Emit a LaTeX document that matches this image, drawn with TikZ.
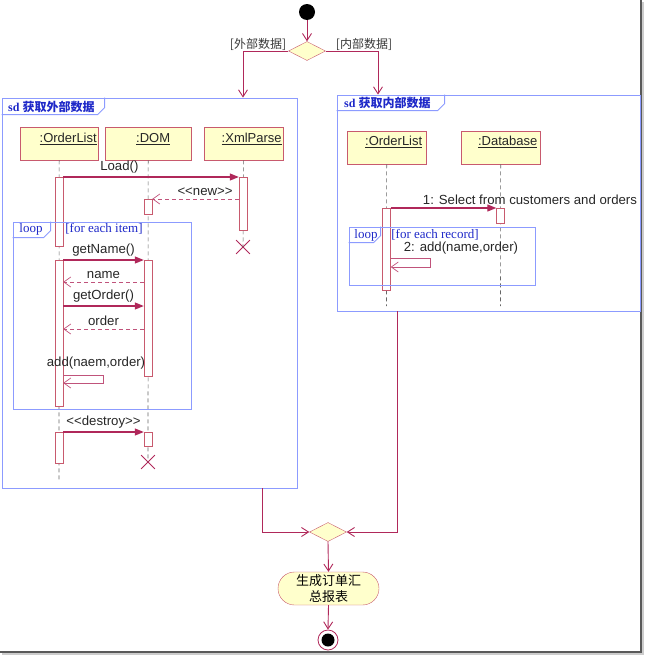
\documentclass[tikz,border=0pt]{standalone}
\usepackage{fontspec}
\setmainfont{Liberation Sans}
\newfontfamily\cjk{Noto Sans CJK SC}
\newfontfamily\serifx{Liberation Serif}
\usetikzlibrary{arrows.meta,shapes.geometric,shapes.misc,calc}
\definecolor{crim}{RGB}{176,40,90}
\definecolor{boxb}{RGB}{200,90,110}
\definecolor{yfill}{RGB}{255,255,204}
\definecolor{frm}{RGB}{140,155,255}
\definecolor{tagc}{RGB}{30,40,200}
\tikzset{
  flow/.style={draw=crim, line width=0.9pt, -{Straight Barb[length=7pt,width=9pt]}},
  msg/.style={draw=crim, line width=1.2pt, -{Triangle[length=9pt,width=7pt]}},
  ret/.style={draw=crim!80, dash pattern=on 4pt off 3pt, line width=0.7pt, -{Straight Barb[length=7pt,width=10pt]}},
  selfmsg/.style={draw=crim!80, line width=0.7pt, -{Straight Barb[length=7pt,width=10pt]}},
  lifebox/.style={draw=boxb, fill=yfill, minimum height=33pt, anchor=north west, inner sep=0pt},
  lifetxt/.style={font=\fontsize{13}{15}\selectfont, text=black!85, inner sep=0pt},
  actbar/.style={draw=boxb, fill=white, minimum width=8pt, inner sep=0pt, anchor=north},
  lline/.style={draw=black!60, dash pattern=on 4pt off 3pt, line width=0.6pt},
  frame/.style={draw=frm, line width=0.8pt},
  framebox/.style={draw=frm, line width=0.8pt, inner sep=0pt},
  tagtxt/.style={font=\fontsize{12}{14}\selectfont\bfseries, text=tagc, inner sep=0pt},
  looptxt/.style={font=\serifx\fontsize{13}{15}\selectfont, text=tagc, inner sep=0pt},
  msgtxt/.style={font=\fontsize{13.2}{15}\selectfont, text=black!85, inner sep=0pt},
  guardtxt/.style={font=\cjk\fontsize{12}{14}\selectfont, text=black!78, inner sep=0pt},
  decision/.style={diamond, draw=boxb, fill=yfill, inner sep=0pt, minimum width=37pt, minimum height=19pt},
  killx/.style={cross out, draw=crim, line width=0.8pt, minimum size=13pt, inner sep=0pt},
}
\begin{document}
\begin{tikzpicture}[x=1pt,y=-1pt]
\useasboundingbox (0,0) rectangle (645,656);
% screenshot frame
\draw[black!65, line width=1.6pt] (641,0) -- (641,652) -- (0,652);
\draw[black!20, line width=1.2pt] (643,2) -- (643,654) -- (2,654);

% start, decision
\node[circle, fill=black, minimum size=16pt, inner sep=0pt] (st) at (307,12) {};
\node[decision] (d1) at (307,51) {};
\draw[flow] (st) -- (d1.north);
\node[guardtxt] (g1) at (258,44) {[外部数据]};
\node[guardtxt] (g2) at (364,44) {[内部数据]};

% frames
\node[framebox, minimum width=295pt, minimum height=390pt] (lf) at (149.5,293) {};
\node[framebox, minimum width=303pt, minimum height=216pt] (rf) at (488.5,203) {};
\draw[flow] (d1.west) -| ([xshift=93.5pt]lf.north);
\draw[flow] (d1.east) -| ([xshift=-110.5pt]rf.north);
\draw[frame] ([yshift=-17pt]lf.north west) -- ++(96,0) -- ++(7,-7) -- ++(0,-10);
\node[tagtxt, anchor=west] (lt) at (8,107) {\serifx sd \cjk 获取外部数据};
\draw[frame] ([yshift=-16pt]rf.north west) -- ++(101,0) -- ++(7,-7) -- ++(0,-9);
\node[tagtxt, anchor=west] (rt) at (344,103) {\serifx sd \cjk 获取内部数据};

% ---------- left sequence ----------
\node[lifebox, minimum width=78pt] (ob) at (20,127) {};
\node[lifebox, minimum width=86pt] (db) at (105,127) {};
\node[lifebox, minimum width=79pt] (xb) at (204,127) {};
\node[lifetxt] (obt) at ([xshift=9pt,yshift=-12pt]ob.north) {\underline{:OrderList}};
\node[lifetxt] (dbt) at ([xshift=5pt,yshift=-12pt]db.north) {\underline{:DOM}};
\node[lifetxt] (xbt) at ([xshift=8pt,yshift=-12pt]xb.north) {\underline{:XmlParse}};

\node[killx] (xx) at (243,247) {};
\node[killx] (dx) at (148,462) {};
\coordinate (oend) at (59,481);
\draw[lline] (ob.south) -- (oend);
\draw[lline] (db.south) -- (dx.center);
\draw[lline] (xb.south) -- (xx.center);

\node[actbar, minimum height=69pt] (oa1) at (59,177) {};
\node[actbar, minimum height=146pt] (oa2) at (59,260) {};
\node[actbar, minimum height=31pt] (oa3) at (59,432) {};
\node[actbar, minimum height=53pt] (xa1) at (243,177) {};
\node[actbar, minimum height=15pt] (da1) at (148,199) {};
\node[actbar, minimum height=116pt] (da2) at (148,260) {};
\node[actbar, minimum height=14pt] (da3) at (148,432) {};

\draw[msg] (oa1.north east) -- (xa1.north west) node[msgtxt, pos=0.32, above=3pt] (m1) {Load()};
\draw[ret] (xa1.west |- da1.north) -- (da1.north east) node[msgtxt, pos=0.39, above=3pt] (m2) {<{}<new>{}>};

% loop 1
\node[framebox, minimum width=178pt, minimum height=187pt] (lp1) at (102,315.5) {};
\draw[frame] ([yshift=-16pt]lp1.north west) -- ++(31,0) -- ++(7,-7) -- ++(0,-9);
\node[looptxt] (lp1t) at (31,229) {loop};
\node[looptxt] (lp1g) at (104,229) {[for each item]};

\draw[msg] (oa2.north east) -- (da2.north west) node[msgtxt, midway, above=3pt] (m3) {getName()};
\draw[ret] ([yshift=-22pt]da2.north west) -- ([yshift=-22pt]oa2.north east) node[msgtxt, midway, above=3pt] (m4) {name};
\draw[msg] ([yshift=-46pt]oa2.north east) -- ([yshift=-46pt]da2.north west) node[msgtxt, midway, above=3pt] (m5) {getOrder()};
\draw[ret] ([yshift=-69pt]da2.north west) -- ([yshift=-69pt]oa2.north east) node[msgtxt, midway, above=3pt] (m6) {order};
\node[msgtxt] (m7) at (96,363) {add(naem,order)};
\draw[selfmsg] ([yshift=-115pt]oa2.north east) -- ++(40,0) -- ++(0,8) -- ++(-40,0);
\draw[msg] (oa3.north east) -- (da3.north west) node[msgtxt, midway, above=3pt] (m8) {<{}<destroy>{}>};

% ---------- right sequence ----------
\node[lifebox, minimum width=79pt] (rob) at (347,131) {};
\node[lifebox, minimum width=79pt] (rdb) at (461,131) {};
\node[lifetxt] (robt) at ([xshift=7pt,yshift=-11pt]rob.north) {\underline{:OrderList}};
\node[lifetxt] (rdbt) at ([xshift=7pt,yshift=-11pt]rdb.north) {\underline{:Database}};
\coordinate (roend) at (386.5,306);
\coordinate (rdend) at (500.5,306);
\draw[lline] (rob.south) -- (roend);
\draw[lline] (rdb.south) -- (rdend);
\node[actbar, minimum height=82pt] (roa) at (386.5,208) {};
\node[actbar, minimum height=15pt] (rda) at (500.5,208) {};
\draw[msg] (roa.north east) -- (rda.north west) node[msgtxt, pos=0.3, anchor=south west, yshift=3pt] (r1) {1: Select from customers and orders};

\node[framebox, minimum width=186pt, minimum height=58pt] (lp2) at (442,256) {};
\draw[frame] ([yshift=-16pt]lp2.north west) -- ++(25,0) -- ++(7,-7) -- ++(0,-9);
\node[looptxt] (lp2t) at (366,235) {loop};
\node[looptxt] (lp2g) at (435,235) {[for each record]};
\node[msgtxt] (r2) at (461,248) {2: add(name,order)};
\draw[selfmsg] ([yshift=-50pt]roa.north east) -- ++(40,0) -- ++(0,9) -- ++(-40,0);

% ---------- merge and end ----------
\node[decision] (d2) at (328,532) {};
\draw[flow] ([xshift=112.5pt]lf.south) |- (d2.west);
\draw[flow] ([xshift=-91.5pt]rf.south) |- (d2.east);
\node[rounded rectangle, draw=boxb, fill=yfill, minimum width=101pt, minimum height=33pt, inner sep=0pt, align=center, font=\cjk\fontsize{13}{16}\selectfont] (act) at (328.5,588.5) {生成订单汇\\总报表};
\draw[flow] (d2.south) -- (act.north);
\node[circle, draw=crim, fill=white, line width=0.8pt, minimum size=20pt, inner sep=0pt] (en) at (328,640) {};
\node[circle, fill=black, minimum size=13pt, inner sep=0pt] (eni) at (en.center) {};
\draw[flow] (act.south) -- (en.north);
\end{tikzpicture}
\end{document}
